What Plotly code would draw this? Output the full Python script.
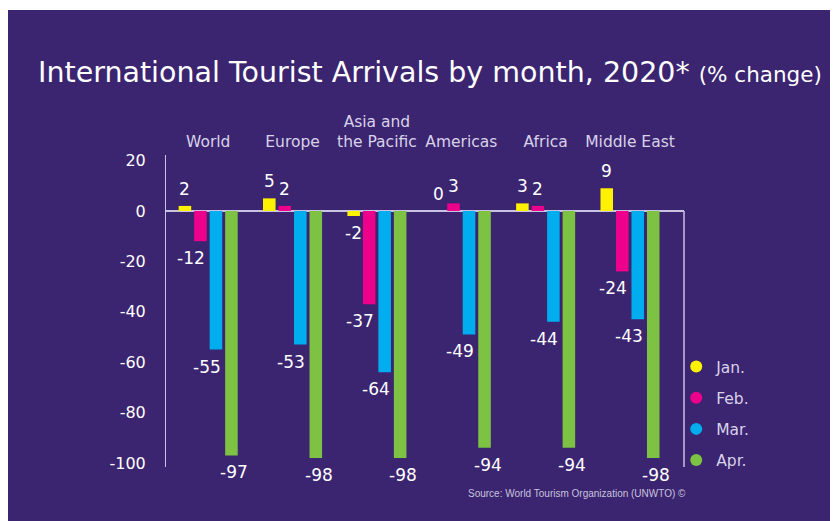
import plotly.graph_objects as go

regions = ["World", "Europe", "Asia and<br>the Pacific", "Americas", "Africa", "Middle East"]
months = ["Jan.", "Feb.", "Mar.", "Apr."]
jan = [2, 5, -2, 0, 3, 9]
feb = [-12, 2, -37, 3, 2, -24]
mar = [-55, -53, -64, -49, -44, -43]
apr = [-97, -98, -98, -94, -94, -98]
series = [jan, feb, mar, apr]
colors = ["#fff200", "#ec008c", "#00aeef", "#7dc242"]
ytick_vals = [20, 0, -20, -40, -60, -80, -100]
ytick_text = ["20", "0", "-20", "-40", "-60", "-80", "-100"]

BG = "#3b2470"
LINE = "#c9c2e2"
LABEL = "#d8d2ea"
FONT = "DejaVu Sans, Verdana, sans-serif"

W, H = 838, 521
ML, MR, MT, MB = 158, 162, 147, 62
XRANGE = [-0.5, 5.64]
BARGAP, GROUPGAP = 0.265, 0.19

# pixel geometry of the grouped bars (for label offsets)
plot_w = W - ML - MR
cat_px = plot_w / (XRANGE[1] - XRANGE[0])
step = cat_px * (1 - BARGAP) / len(series)
label_nudge_neg = [0, -9, -9, 3]
label_nudge_pos = [0, 0, 0, 0]

fig = go.Figure()
annotations = []
for i, (name, vals, col) in enumerate(zip(months, series, colors)):
    fig.add_trace(go.Bar(
        x=regions, y=vals, name=name, marker_color=col, marker_line_width=0,
        showlegend=False, hoverinfo="x+y+name",
    ))
    offset = (i - (len(series) - 1) / 2) * step
    for reg, v in zip(regions, vals):
        neg = v < 0
        annotations.append(dict(
            x=reg, y=v, xref="x", yref="y", text=str(v), showarrow=False,
            xanchor="center", yanchor="top" if neg else "bottom",
            xshift=offset + (label_nudge_neg[i] if neg else label_nudge_pos[i]),
            yshift=-5 if neg else 5,
            font=dict(family=FONT, size=17, color="white"),
        ))

# legend entries with round markers
for name, col in zip(months, colors):
    fig.add_trace(go.Scatter(
        x=[None], y=[None], mode="markers", name=name, legendgroup=name,
        marker=dict(symbol="circle", size=15, color=col),
    ))

annotations += [
    dict(xref="paper", yref="paper", x=-0.251, y=1.263, xanchor="left", yanchor="middle",
         showarrow=False,
         text="International Tourist Arrivals by month, 2020* <span style='font-size:21.5px'>(% change)</span>",
         font=dict(family=FONT, size=28.5, color="white")),
    dict(xref="paper", yref="paper", x=1.0077, y=-0.0865, xanchor="right", yanchor="middle",
         showarrow=False, text="Source: World Tourism Organization (UNWTO) ©",
         font=dict(family="Liberation Sans, Arial, sans-serif", size=10, color="#c8c3dd")),
]

fig.update_layout(
    width=W, height=H,
    margin=dict(l=ML, r=MR, t=MT, b=MB),
    paper_bgcolor="white", plot_bgcolor="rgba(0,0,0,0)",
    barmode="group", bargap=BARGAP, bargroupgap=GROUPGAP,
    showlegend=True,
    legend=dict(x=0.985, y=0.375, xanchor="left", yanchor="top",
                font=dict(family=FONT, size=15.5, color=LABEL),
                bgcolor="rgba(0,0,0,0)", tracegroupgap=8, itemsizing="constant"),
    font=dict(family=FONT),
    xaxis=dict(side="top", range=XRANGE, showgrid=False, showline=False,
               ticks="", tickfont=dict(family=FONT, size=15.5, color=LABEL),
               ticklabelstandoff=4, fixedrange=True),
    yaxis=dict(range=[-101.6, 22.2], tickvals=ytick_vals, ticktext=ytick_text,
               showgrid=False, showline=True, linecolor=LINE, linewidth=1,
               zeroline=True, zerolinecolor=LINE, zerolinewidth=1.5,
               tickfont=dict(family=FONT, size=16, color="white"),
               ticks="", ticklabelstandoff=16, fixedrange=True),
    shapes=[
        dict(type="rect", xref="paper", yref="paper", x0=-0.32, x1=1.35, y0=-0.2, y1=1.4647,
             fillcolor=BG, line_width=0, layer="below"),
        dict(type="line", xref="paper", yref="y", x0=1, x1=1, y0=0, y1=-108,
             line=dict(color=LINE, width=1.5)),
        dict(type="line", xref="paper", yref="y", x0=0.59, x1=1, y0=-108, y1=-108,
             line=dict(color=LINE, width=1.5)),
    ],
    annotations=annotations,
)

fig.write_html("out.html")
